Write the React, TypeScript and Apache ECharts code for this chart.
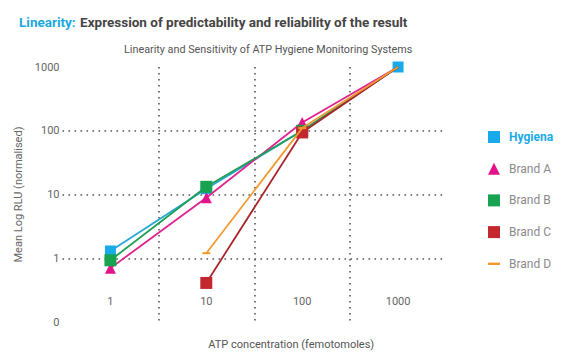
import React, { useEffect, useRef } from "react";
import * as echarts from "echarts";

const categories = ["1", "10", "100", "1000"];
const seriesNames = ["Hygiena", "Brand A", "Brand B", "Brand C", "Brand D"];
const hygiena = [1.3, 12.3, 100, 1000];
const brandA = [0.7, 8.9, 135, 1000];
const brandB = [0.93, 13.2, 100, 1000];
const brandC = [null, 0.41, 94, 1000];
const brandD = [null, 1.2, 110, 1000];

const FONT = "Roboto";
const DOT = { color: "#555", width: 1.6, type: [1.6, 4.4] as number[] };

export default function App() {
  const ref = useRef<HTMLDivElement>(null);
  useEffect(() => {
    if (!ref.current) return;
    const chart = echarts.init(ref.current, undefined, { renderer: "svg" });
    const hideLast = (arr: (number | null)[]) =>
      arr.map((v, i) => (i === arr.length - 1 ? { value: v, symbol: "none" } : v));
    const mk = (name: string, data: any[], color: string, lineColor: string, symbol: any, size: any, z: number) => ({
      name,
      type: "line",
      data,
      symbol,
      symbolSize: size,
      z,
      connectNulls: false,
      itemStyle: { color },
      lineStyle: { color: lineColor, width: 1.8 },
    });
    chart.setOption({
      animation: false,
      textStyle: { fontFamily: FONT },
      title: [
        {
          text: "{a|Linearity:} {b|Expression of predictability and reliability of the result}",
          left: 14,
          top: 8,
          textStyle: {
            rich: {
              a: { color: "#1ba8e0", fontWeight: "bold", fontSize: 13.5, fontFamily: FONT },
              b: { color: "#454545", fontWeight: "bold", fontSize: 13.5, fontFamily: FONT },
            },
          },
        },
        {
          text: "Linearity and Sensitivity of ATP Hygiene Monitoring Systems",
          left: 119,
          top: 39,
          textStyle: { color: "#555", fontSize: 10.8, fontWeight: "normal", fontFamily: FONT },
        },
      ],
      legend: {
        orient: "vertical",
        left: 483,
        top: 126,
        itemWidth: 12,
        itemHeight: 12,
        itemGap: 19.7,
        textStyle: { color: "#8a8a8a", fontSize: 12, fontFamily: FONT, padding: [0, 0, 0, 4] },
        data: [
          { name: "Hygiena", icon: "rect", textStyle: { color: "#1aa9e6", fontWeight: "bold" } },
          { name: "Brand A", icon: "triangle" },
          { name: "Brand B", icon: "rect" },
          { name: "Brand C", icon: "rect" },
          { name: "Brand D", icon: "path://M0,0H10V2H0Z" },
        ],
      },
      grid: { left: 62.5, right: 129, top: 67, bottom: 32 },
      xAxis: {
        type: "category",
        data: categories,
        boundaryGap: true,
        axisLine: { show: false },
        axisTick: { show: false },
        axisLabel: { color: "#666", fontSize: 11, margin: -26 },
        splitLine: { show: true, showMinLine: false, showMaxLine: false, lineStyle: DOT },
        name: "ATP concentration (femotomoles)",
        nameLocation: "middle",
        nameGap: 17,
        nameTextStyle: { color: "#555", fontSize: 11, padding: [0, 0, 0, 74] },
      },
      yAxis: {
        type: "log",
        logBase: 10,
        min: 0.1,
        max: 1000,
        axisLine: { show: false },
        axisTick: { show: false },
        axisLabel: {
          color: "#666",
          fontSize: 11,
          margin: 3,
          formatter: (v: number) => (v < 1 ? "0" : String(Math.round(v))),
        },
        splitLine: { show: true, showMinLine: false, showMaxLine: false, lineStyle: DOT },
        name: "Mean Log RLU (normalised)",
        nameLocation: "middle",
        nameGap: 32,
        nameRotate: 90,
        nameTextStyle: { color: "#666", fontSize: 11 },
      },
      series: [
        mk(seriesNames[0], hygiena, "#19abe9", "#27a8d8", "rect", 11, 2),
        mk(seriesNames[1], hideLast(brandA), "#e3148b", "#e0228e", "triangle", 11, 3),
        mk(seriesNames[2], hideLast(brandB), "#17a34f", "#1f9e55", "rect", 12, 4),
        mk(seriesNames[3], hideLast(brandC), "#c3282e", "#a8252b", "rect", 12, 5),
        mk(seriesNames[4], hideLast(brandD), "#f29a30", "#f29a30", "rect", [8, 2], 6),
      ],
    });
    return () => chart.dispose();
  }, []);
  return <div ref={ref} style={{ position: "absolute", left: 0, top: 0, width: 575, height: 355 }} />;
}
